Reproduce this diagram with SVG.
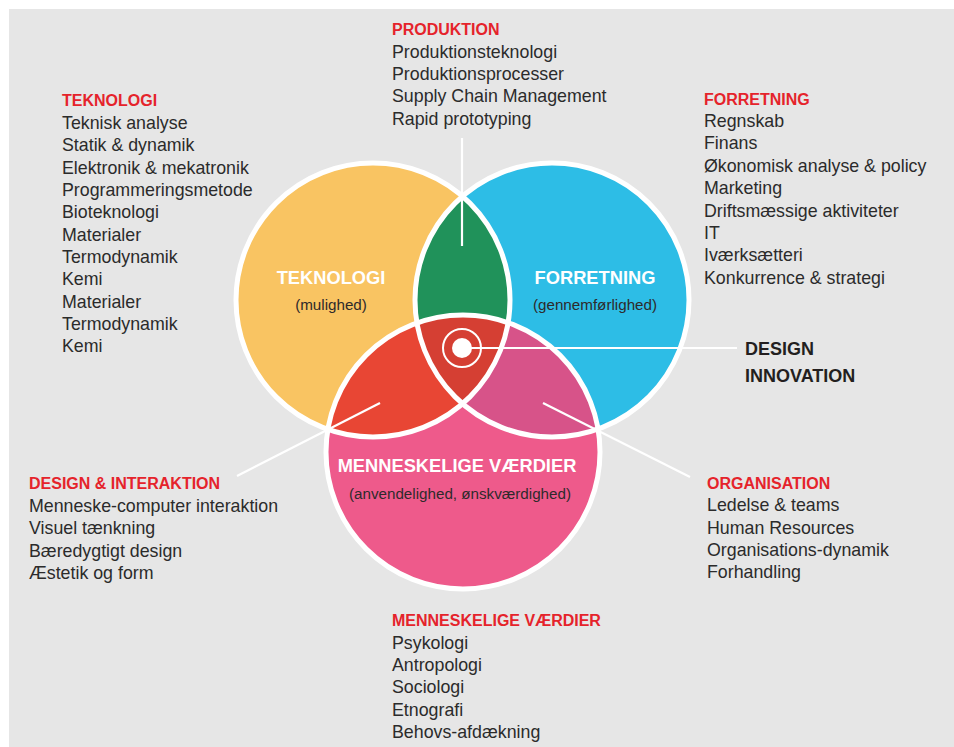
<svg xmlns="http://www.w3.org/2000/svg" width="954" height="747" viewBox="0 0 954 747">
  <defs>
    <style>
      .bg { fill: #e6e6e6; }
      .txt { font-family: "Liberation Sans", Arial, sans-serif; font-size: 17.8px; fill: #2b2b2b; }
      .hd { font-family: "Liberation Sans", Arial, sans-serif; font-size: 16px; font-weight: bold; fill: #e5232b; }
      .big { font-family: "Liberation Sans", Arial, sans-serif; font-size: 18.3px; font-weight: bold; fill: #ffffff; text-anchor: middle; }
      .sub { font-family: "Liberation Sans", Arial, sans-serif; font-size: 15.2px; fill: #2e2a2b; text-anchor: middle; }
      .di { font-family: "Liberation Sans", Arial, sans-serif; font-size: 18px; font-weight: bold; fill: #231f20; }
      .ring { fill: none; stroke: #ffffff; stroke-width: 5; }
      .ptr { stroke: #ffffff; stroke-width: 2.2; fill: none; }
    </style>
    <clipPath id="clipTek"><circle cx="373" cy="300" r="137"/></clipPath>
    <clipPath id="clipFor"><circle cx="552" cy="300" r="137"/></clipPath>
    <clipPath id="clipTekFor" clip-path="url(#clipTek)"><circle cx="552" cy="300" r="137"/></clipPath>
  </defs>

  <rect class="bg" x="9" y="9" width="945" height="738"/>

  <!-- base circles -->
  <g id="teknologi">
    <circle cx="373" cy="300" r="137" fill="#f9c462"/>
  </g>
  <g id="forretning">
    <circle cx="552" cy="300" r="137" fill="#2dbde6"/>
  </g>
  <g id="produktion-overlap">
    <circle cx="552" cy="300" r="137" fill="#20925a" clip-path="url(#clipTek)"/>
  </g>
  <g id="menneskelige-vaerdier">
    <circle cx="463" cy="452" r="137" fill="#ee5a8b"/>
  </g>
  <g id="design-interaktion-overlap">
    <circle cx="463" cy="452" r="137" fill="#e84634" clip-path="url(#clipTek)"/>
  </g>
  <g id="organisation-overlap">
    <circle cx="463" cy="452" r="137" fill="#d75389" clip-path="url(#clipFor)"/>
  </g>
  <g id="design-innovation-overlap">
    <circle cx="463" cy="452" r="137" fill="#d53f33" clip-path="url(#clipTekFor)"/>
  </g>

  <!-- white outlines -->
  <g id="outlines">
    <circle class="ring" cx="373" cy="300" r="137"/>
    <circle class="ring" cx="552" cy="300" r="137"/>
    <circle class="ring" cx="463" cy="452" r="137"/>
  </g>

  <!-- pointer lines -->
  <g id="connectors">
    <line class="ptr" x1="462" y1="138" x2="462" y2="246"/>
    <line class="ptr" x1="462" y1="348" x2="737" y2="348"/>
    <line class="ptr" x1="380" y1="403" x2="237" y2="476"/>
    <line class="ptr" x1="543" y1="403" x2="690" y2="477"/>
  </g>

  <!-- target mark -->
  <g id="target">
    <circle cx="462" cy="348" r="19" fill="none" stroke="#ffffff" stroke-width="2"/>
    <circle cx="462" cy="348" r="10" fill="#ffffff"/>
  </g>

  <!-- circle labels -->
  <g id="label-teknologi">
    <text class="big" x="331" y="284">TEKNOLOGI</text>
    <text class="sub" x="331" y="310">(mulighed)</text>
  </g>
  <g id="label-forretning">
    <text class="big" x="595" y="284">FORRETNING</text>
    <text class="sub" x="595" y="310">(gennemførlighed)</text>
  </g>
  <g id="label-menneskelige">
    <text class="big" x="457" y="472">MENNESKELIGE VÆRDIER</text>
    <text class="sub" x="460" y="499">(anvendelighed, ønskværdighed)</text>
  </g>

  <g id="design-innovation">
    <text class="di" x="745" y="355">DESIGN</text>
    <text class="di" x="745" y="382">INNOVATION</text>
  </g>

  <!-- lists -->
  <g id="list-teknologi">
    <text class="hd" x="62" y="106">TEKNOLOGI</text>
    <text class="txt" x="62" y="128.5">Teknisk analyse</text>
    <text class="txt" x="62" y="151">Statik &amp; dynamik</text>
    <text class="txt" x="62" y="173.5">Elektronik &amp; mekatronik</text>
    <text class="txt" x="62" y="196">Programmeringsmetode</text>
    <text class="txt" x="62" y="218">Bioteknologi</text>
    <text class="txt" x="62" y="240.5">Materialer</text>
    <text class="txt" x="62" y="263">Termodynamik</text>
    <text class="txt" x="62" y="285">Kemi</text>
    <text class="txt" x="62" y="307.5">Materialer</text>
    <text class="txt" x="62" y="330">Termodynamik</text>
    <text class="txt" x="62" y="352">Kemi</text>
  </g>

  <g id="list-produktion">
    <text class="hd" x="392" y="35">PRODUKTION</text>
    <text class="txt" x="392" y="57.5">Produktionsteknologi</text>
    <text class="txt" x="392" y="80">Produktionsprocesser</text>
    <text class="txt" x="392" y="102">Supply Chain Management</text>
    <text class="txt" x="392" y="124.5">Rapid prototyping</text>
  </g>

  <g id="list-forretning">
    <text class="hd" x="704" y="104.5">FORRETNING</text>
    <text class="txt" x="704" y="127">Regnskab</text>
    <text class="txt" x="704" y="149">Finans</text>
    <text class="txt" x="704" y="171.5">Økonomisk analyse &amp; policy</text>
    <text class="txt" x="704" y="194">Marketing</text>
    <text class="txt" x="704" y="216.5">Driftsmæssige aktiviteter</text>
    <text class="txt" x="704" y="239">IT</text>
    <text class="txt" x="704" y="261">Iværksætteri</text>
    <text class="txt" x="704" y="284">Konkurrence &amp; strategi</text>
  </g>

  <g id="list-design-interaktion">
    <text class="hd" x="29" y="489">DESIGN &amp; INTERAKTION</text>
    <text class="txt" x="29" y="511.5">Menneske-computer interaktion</text>
    <text class="txt" x="29" y="534">Visuel tænkning</text>
    <text class="txt" x="29" y="556.5">Bæredygtigt design</text>
    <text class="txt" x="29" y="579">Æstetik og form</text>
  </g>

  <g id="list-organisation">
    <text class="hd" x="707" y="488.5">ORGANISATION</text>
    <text class="txt" x="707" y="511">Ledelse &amp; teams</text>
    <text class="txt" x="707" y="533.5">Human Resources</text>
    <text class="txt" x="707" y="556">Organisations-dynamik</text>
    <text class="txt" x="707" y="578">Forhandling</text>
  </g>

  <g id="list-menneskelige">
    <text class="hd" x="392" y="626">MENNESKELIGE VÆRDIER</text>
    <text class="txt" x="392" y="648.5">Psykologi</text>
    <text class="txt" x="392" y="671">Antropologi</text>
    <text class="txt" x="392" y="693">Sociologi</text>
    <text class="txt" x="392" y="715.5">Etnografi</text>
    <text class="txt" x="392" y="738">Behovs-afdækning</text>
  </g>
</svg>
